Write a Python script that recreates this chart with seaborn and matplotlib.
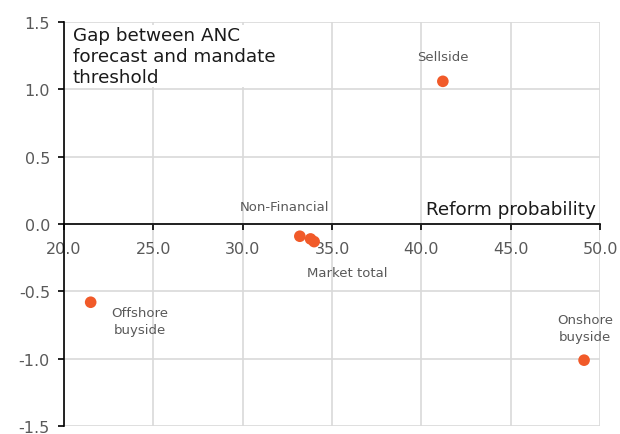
import matplotlib
matplotlib.use("Agg")
import matplotlib.pyplot as plt
import pandas as pd
import seaborn as sns


SEGMENTS = ["Sellside", "Non-Financial", "", "Market total", "Offshore\nbuyside", "Onshore\nbuyside"]
REFORM_PROBABILITY = [41.2, 33.2, 33.8, 34.0, 21.5, 49.1]
GAP = [1.06, -0.09, -0.11, -0.13, -0.58, -1.01]

X_TICKS = [20, 25, 30, 35, 40, 45, 50]
Y_TICKS = [-1.5, -1.0, -0.5, 0.0, 0.5, 1.0, 1.5]

# label offsets in pixels from each point
LABEL_OFFSETS = [(0, 25), (-15, 30), (0, 0), (33, -31), (49, -19), (1, 32)]

DOT_COLOR = "#f15a29"
GRID_COLOR = "#d9d9d9"
TICK_COLOR = "#595959"


def main():
    sns.set_theme(style="white")
    plt.rcParams["font.family"] = ["DejaVu Sans"]
    plt.rcParams["axes.unicode_minus"] = False

    data = pd.DataFrame({"segment": SEGMENTS, "prob": REFORM_PROBABILITY, "gap": GAP})

    figure = plt.figure(figsize=(6.2, 4.35), dpi=100)
    axis = figure.add_axes([0.103, 0.018, 0.865, 0.929])

    sns.scatterplot(data=data, x="prob", y="gap", ax=axis, color=DOT_COLOR,
                    s=70, edgecolor="none", zorder=5)

    axis.set_xlim(20, 50)
    axis.set_ylim(-1.5, 1.5)
    axis.set_xticks(X_TICKS)
    axis.set_yticks(Y_TICKS)
    axis.set_xticklabels([f"{v:.1f}" for v in X_TICKS])
    axis.set_yticklabels([f"{v:.1f}" for v in Y_TICKS])
    axis.set_xlabel("")
    axis.set_ylabel("")

    axis.grid(True, color=GRID_COLOR, linewidth=1.2)
    axis.set_axisbelow(True)
    for side in ["top", "right"]:
        axis.spines[side].set_visible(False)
    axis.spines["left"].set_color("black")
    axis.spines["left"].set_linewidth(1.2)
    axis.spines["bottom"].set_position(("data", 0))
    axis.spines["bottom"].set_color("black")
    axis.spines["bottom"].set_linewidth(1.2)
    axis.spines["bottom"].set_zorder(3)

    axis.tick_params(axis="both", direction="out", length=4, width=1.2, color="black",
                     labelcolor=TICK_COLOR, labelsize=11.5)
    axis.tick_params(axis="x", pad=8)
    axis.tick_params(axis="y", pad=6)
    axis.xaxis.set_ticks_position("bottom")
    axis.yaxis.set_ticks_position("left")

    for i, row in data.iterrows():
        if not row["segment"]:
            continue
        dx, dy = LABEL_OFFSETS[i]
        axis.annotate(row["segment"], (row["prob"], row["gap"]),
                      textcoords="offset pixels", xytext=(dx, dy),
                      ha="center", va="center", fontsize=9.5,
                      color=TICK_COLOR, linespacing=1.35)

    axis.text(0.017, 0.99, "Gap between ANC\nforecast and mandate\nthreshold",
              transform=axis.transAxes, ha="left", va="top", fontsize=13.2,
              color="#1a1a1a", linespacing=1.2,
              bbox={"facecolor": "white", "edgecolor": "none", "pad": 1})
    axis.text(0.992, 0.515, "Reform probability", transform=axis.transAxes,
              ha="right", va="bottom", fontsize=13.2, color="#1a1a1a")

    figure.savefig("out.png", dpi=100)
    plt.close(figure)


if __name__ == "__main__":
    main()
